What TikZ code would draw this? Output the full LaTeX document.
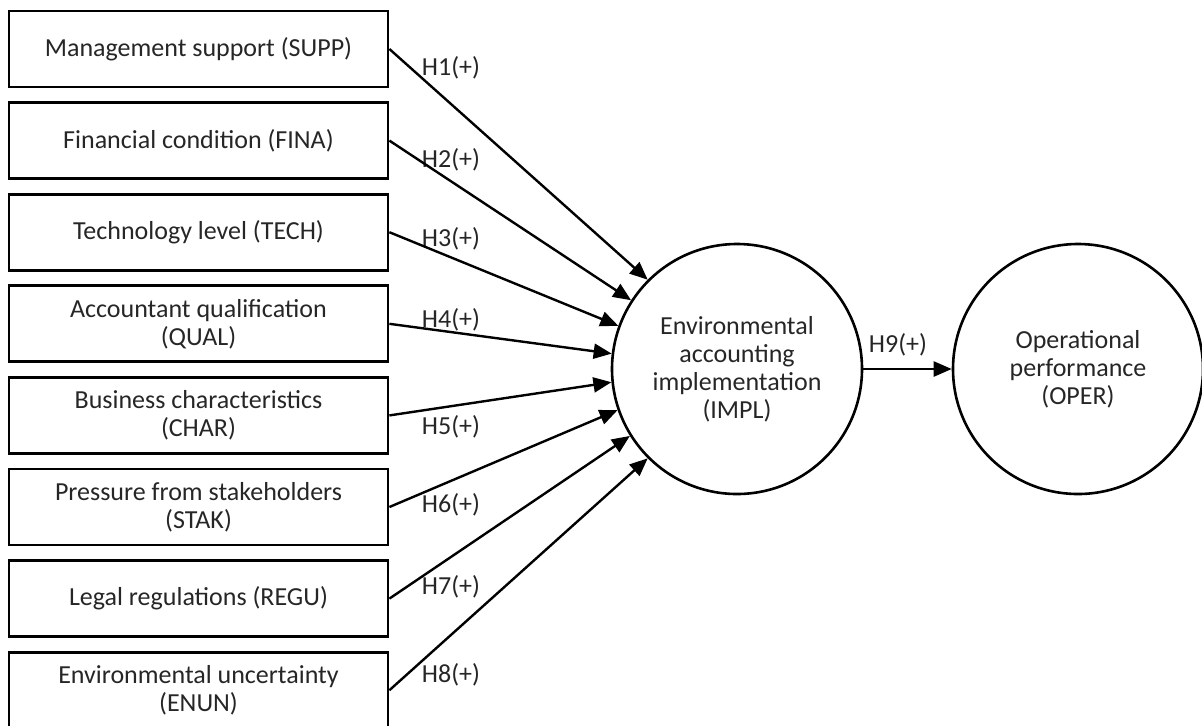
\documentclass[tikz,border=0pt]{standalone}
\usepackage{fontspec}
\setmainfont{Carlito}
\usetikzlibrary{arrows.meta}
\usetikzlibrary{positioning}
\tikzset{x=0.5pt, y=-0.5pt, % one unit is one pixel of the sketch
    font=\fontsize{13}{14}\selectfont,
    factor/.style=
    { % Sets the properties for each left-hand box
        draw,
        line width=1.4pt,
        minimum width=189.5pt,
        minimum height=38pt,
        align=center,
        text=black!85
    },
    construct/.style={ % the two round constructs
        draw,
        circle,
        line width=1.3pt,
        minimum size=125pt,
        inner sep=0pt,
        align=center,
        text=black!85
    },
    hyp/.style={text=black!85, inner sep=0pt}, % H labels
    every edge/.style={ % Sets the properties for each path
        draw,
        -{Triangle[length=9pt,width=7.5pt]},
        line width=1.2pt
    }
}
\begin{document}
\begin{tikzpicture}
\useasboundingbox (0,0) rectangle (1202,725);

\node [factor] (supp) at (198.5,49)    {Management support (SUPP)};
\node [factor] (fina) at (198.5,140.6) {Financial condition (FINA)};
\node [factor] (tech) at (198.5,232.2) {Technology level (TECH)};
\node [factor] (qual) at (198.5,323.8) {Accountant qualification\\(QUAL)};
\node [factor] (char) at (198.5,415.4) {Business characteristics\\(CHAR)};
\node [factor] (stak) at (198.5,507)   {Pressure from stakeholders\\(STAK)};
\node [factor] (regu) at (198.5,598.6) {Legal regulations (REGU)};
\node [factor] (enun) at (198.5,690.2) {Environmental uncertainty\\(ENUN)};

\node [construct] (impl) at (737,369)  {Environmental\\accounting\\implementation\\(IMPL)};
\node [construct] (oper) at (1078,369) {Operational\\performance\\(OPER)};

\node [hyp] (h1) at (451,68)  {H1(+)};
\node [hyp] (h2) at (451,160) {H2(+)};
\node [hyp] (h3) at (451,239) {H3(+)};
\node [hyp] (h4) at (451,320) {H4(+)};
\node [hyp] (h5) at (451,427) {H5(+)};
\node [hyp] (h6) at (451,505) {H6(+)};
\node [hyp] (h7) at (451,587) {H7(+)};
\node [hyp] (h8) at (451,675) {H8(+)};
\node [hyp] (h9) at (898,345) {H9(+)};

\draw
    (supp.east) edge (impl.135)
    (fina.east) edge (impl.147.9)
    (tech.east) edge (impl.160.7)
    (qual.east) edge (impl.173.6)
    (char.east) edge (impl.186.4)
    (stak.east) edge (impl.199.3)
    (regu.east) edge (impl.212.1)
    (enun.east) edge (impl.225)
    (impl) edge (oper);
\end{tikzpicture}
\end{document}
